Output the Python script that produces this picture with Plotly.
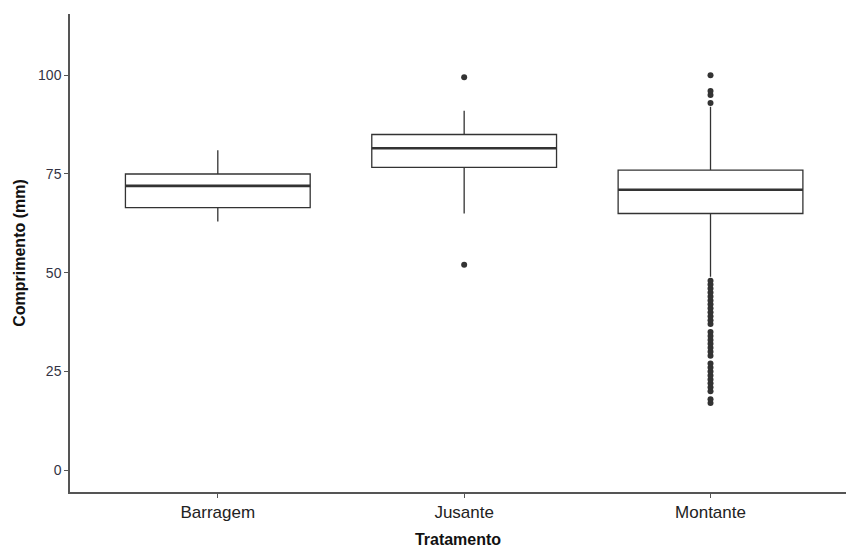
import plotly.graph_objects as go

categories = ["Barragem", "Jusante", "Montante"]
lower_fence = [63, 65, 49]
q1 = [66.5, 76.7, 65]
median = [72, 81.5, 71]
q3 = [75, 85, 76]
upper_fence = [81, 91, 92]

outliers = {
    "Jusante": [52, 99.5],
    "Montante": [17, 18, 20, 21, 22, 23, 24, 25, 26, 27, 29, 30, 31, 32, 33, 34, 35,
                 37, 38, 39, 40, 41, 42, 43, 44, 45, 46, 47, 48, 93, 95, 96, 100],
}

y_ticks = [0, 25, 50, 75, 100]

pos = list(range(len(categories)))
box_width = 0.75

fig = go.Figure()
fig.add_trace(go.Box(
    x=pos, q1=q1, median=median, q3=q3,
    lowerfence=lower_fence, upperfence=upper_fence,
    width=box_width, fillcolor="white",
    line=dict(color="#333333", width=1.3),
    whiskerwidth=0, boxpoints=False, showlegend=False, hoverinfo="skip",
))

# thicker median lines (ggplot style)
mx, my = [], []
for i, m in zip(pos, median):
    mx += [i - box_width / 2, i + box_width / 2, None]
    my += [m, m, None]
fig.add_trace(go.Scatter(
    x=mx, y=my, mode="lines", line=dict(color="#333333", width=2.6),
    showlegend=False, hoverinfo="skip",
))

ox, oy = [], []
for c, vals in outliers.items():
    i = categories.index(c)
    ox += [i] * len(vals)
    oy += vals
fig.add_trace(go.Scatter(
    x=ox, y=oy, mode="markers",
    marker=dict(color="#333333", size=6),
    showlegend=False, hoverinfo="skip",
))

fig.update_layout(
    width=846, height=549,
    margin=dict(l=70, r=0, t=14, b=57),
    paper_bgcolor="white", plot_bgcolor="white",
    xaxis=dict(
        range=[-0.6, 2.55], tickvals=pos, ticktext=categories,
        showgrid=False, zeroline=False, showline=True,
        linecolor="#555555", linewidth=1.5,
        ticks="outside", ticklen=4, tickcolor="#555555",
        tickfont=dict(family="Liberation Sans Narrow, Arial Narrow, Liberation Sans, sans-serif", size=17, color="#222222"),
        title=dict(text="<b>Tratamento</b>", standoff=13,
                   font=dict(family="Liberation Sans Narrow, Arial Narrow, Liberation Sans, sans-serif", size=16, color="#111111")),
    ),
    yaxis=dict(
        range=[-5.5, 115.5], tickvals=y_ticks,
        showgrid=False, zeroline=False, showline=True,
        linecolor="#555555", linewidth=1.5,
        ticks="outside", ticklen=4, tickcolor="#555555",
        tickfont=dict(family="Liberation Sans, Arial, sans-serif", size=14, color="#333344"),
        title=dict(text="<b>Comprimento (mm)</b>", standoff=8,
                   font=dict(family="Liberation Sans, Arial, sans-serif", size=16, color="#111111")),
    ),
)

fig.write_html("out.html")
